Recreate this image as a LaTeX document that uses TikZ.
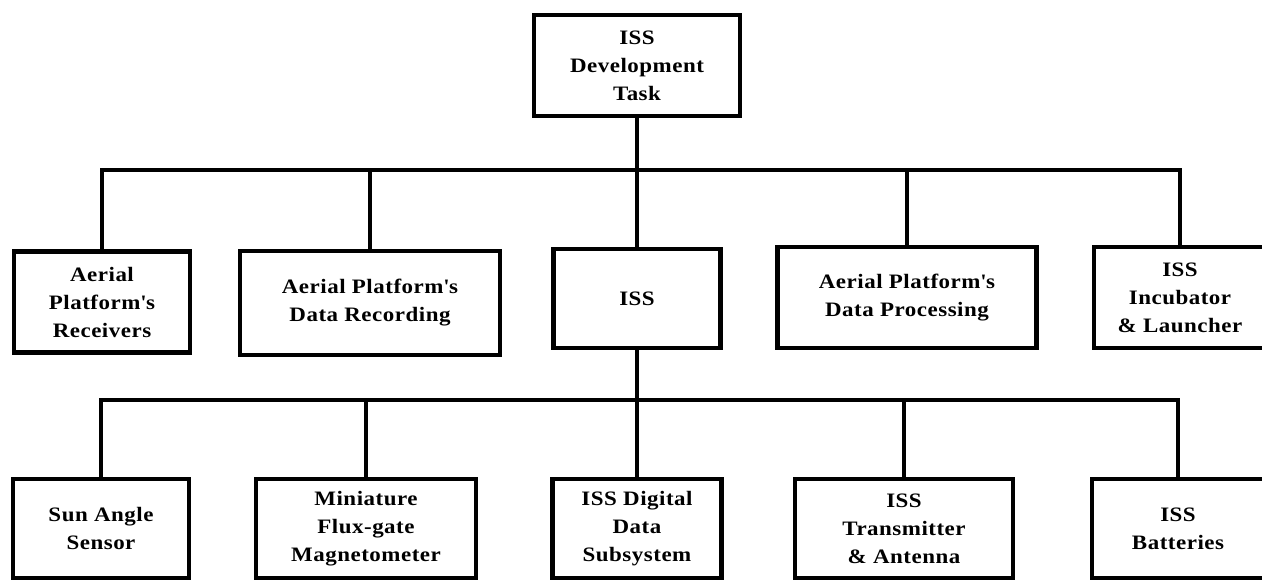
\documentclass[tikz,border=0pt]{standalone}
\usepackage{fontspec}
\setmainfont{Liberation Serif}[FakeStretch=1.12, LetterSpace=2.5]
\newcommand{\apos}{\textquotesingle}
\begin{document}
\begin{tikzpicture}[x=1pt,y=-1pt,
  box/.style={draw, line width=4.5pt, inner sep=0pt, align=center,
    font=\bfseries\fontsize{20.5}{28}\selectfont},
  conn/.style={line width=4.5pt}]
\useasboundingbox (0,0) rectangle (1262,581);
% top
\node[box, minimum width=206pt, minimum height=101pt] (top) at (637,65.5) {ISS\\Development\\Task};
% row 1
\node[box, minimum width=176pt, minimum height=101pt] (rec) at (102,302) {Aerial\\Platform\apos s\\Receivers};
\node[box, minimum width=260pt, minimum height=104pt] (drec) at (370,303) {Aerial Platform\apos s\\Data Recording};
\node[box, minimum width=167pt, minimum height=99pt] (iss) at (637,298.5) {ISS};
\node[box, minimum width=259pt, minimum height=101pt] (dproc) at (907,297.5) {Aerial Platform\apos s\\Data Processing};
\node[box, minimum width=172pt, minimum height=101pt] (inc) at (1180,297.5) {ISS\\Incubator\\\& Launcher};
% row 2
\node[box, minimum width=176pt, minimum height=99pt] (sun) at (101,528.5) {Sun Angle\\Sensor};
\node[box, minimum width=220pt, minimum height=99pt] (mag) at (366,528.5) {Miniature\\Flux-gate\\Magnetometer};
\node[box, minimum width=169pt, minimum height=99pt] (dds) at (637,528.5) {ISS Digital\\Data\\Subsystem};
\node[box, minimum width=218pt, minimum height=99pt] (tx) at (904,528.5) {ISS\\Transmitter\\\& Antenna};
\node[box, minimum width=172pt, minimum height=99pt] (bat) at (1178,528.5) {ISS\\Batteries};
% buses
\coordinate (b1) at (637,170);
\coordinate (b2) at (637,400);
\draw[conn] (top.south) -- (b1);
\draw[conn] (b1) -| (rec.north);
\draw[conn] (b1) -| (drec.north);
\draw[conn] (b1) -- (iss.north);
\draw[conn] (b1) -| (dproc.north);
\draw[conn] (b1) -| (inc.north);
\draw[conn] (iss.south) -- (b2);
\draw[conn] (b2) -| (sun.north);
\draw[conn] (b2) -| (mag.north);
\draw[conn] (b2) -- (dds.north);
\draw[conn] (b2) -| (tx.north);
\draw[conn] (b2) -| (bat.north);
\end{tikzpicture}
\end{document}
